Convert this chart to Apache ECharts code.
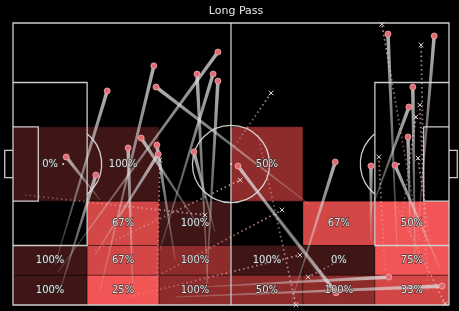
<!DOCTYPE html>
<html><head><meta charset="utf-8">
<script src="https://cdn.jsdelivr.net/npm/echarts@6/dist/echarts.min.js"></script>
<style>html,body{margin:0;padding:0;background:#000;}#c{width:459px;height:311px;}</style>
</head><body><div id="c"></div>
<script>
// ---- zone grid (Opta 0-100 pitch, y measured from top touchline) ----
const xEdges = [0, 17, 33.5, 50, 66.5, 83, 100];
const yEdges = [0, 21.1, 36.8, 63.2, 78.9, 89.45, 100];
// zones with long passes started: column index, row index, number of passes, success %
const cellCol   = [0, 1, 3,   1, 2, 4, 5,   0, 1, 2, 3, 4, 5,   0, 1, 2, 3, 4, 5];
const cellRow   = [2, 2, 2,   3, 3, 3, 3,   4, 4, 4, 4, 4, 4,   5, 5, 5, 5, 5, 5];
const cellCount = [1, 1, 2,   3, 1, 3, 4,   1, 3, 2, 1, 1, 4,   1, 4, 2, 2, 2, 3];
const cellPct   = [0, 100, 50, 67, 100, 67, 50, 100, 67, 100, 100, 0, 75, 100, 25, 100, 50, 100, 33];

// ---- completed long passes: start [x,y] and end [x,y] ----
const okStart = [[10.3,88.3],[20.0,94.7],[44.7,92.9],[33.7,80.5],[44.3,94.7],[68.1,64.5],[9.6,85.8],
  [42.9,72.7],[37.2,84.0],[18.8,82.3],[27.5,95.7],[46.3,74.1],[20.0,62.8],[10.8,94.7],
  [88.1,80.5],[92.9,73.4],[92.2,84.8],[81.7,68.1],[91.1,75.2],[82.1,77.0],[97.9,86.9],
  [72.7,94.0],[64.0,98.2],[42.9,93.6],[37.2,97.2],[52.1,51.4]];
const okEnd = [[47.0,10.3],[32.3,15.2],[42.2,18.1],[45.9,18.1],[47.0,20.6],[32.8,22.7],[21.6,24.1],
  [29.4,40.8],[33.0,43.3],[33.3,46.5],[26.4,44.3],[41.5,45.7],[12.2,47.5],[19.0,53.9],
  [86.0,3.9],[96.6,4.6],[91.7,22.7],[90.8,29.8],[90.6,40.4],[82.1,50.7],[87.6,50.4],
  [51.6,50.7],[73.9,49.3],[86.2,90.1],[98.4,93.3],[74.1,95.7]];
// ---- failed long passes ----
const failStart = [[94.5,82.3],[50.2,45.0],[95.2,94.7],[88.8,73.4],[85.3,87.6],[95.6,77.0],[93.3,77.0],
  [31.4,91.1],[76.1,83.3],[56.2,39.7],[88.1,65.2],[2.8,61.0],[33.0,98.2],[25.7,97.5],[18.8,80.5]];
const failEnd = [[93.6,7.8],[59.2,24.8],[93.3,29.1],[92.4,33.3],[83.9,47.5],[92.9,47.9],[84.6,0.4],
  [61.7,66.3],[67.7,90.1],[64.9,100],[99.1,99.6],[44.0,68.1],[33.7,48.6],[65.8,82.3],[52.1,55.7]];

const LINE = 'rgba(225,225,225,0.9)';

const chart = echarts.init(document.getElementById('c'));

function heatItem(params, api) {
  const c = api.value(0), r = api.value(1);
  const p0 = api.coord([xEdges[c], yEdges[r]]);
  const p1 = api.coord([xEdges[c + 1], yEdges[r + 1]]);
  return {type: 'rect', shape: {x: p0[0], y: p0[1], width: p1[0] - p0[0], height: p1[1] - p0[1]},
    style: {fill: api.visual('color'), stroke: 'rgba(0,0,0,0.35)', lineWidth: 1}};
}
function labelItem(params, api) {
  const c = api.value(0), r = api.value(1);
  const p = api.coord([(xEdges[c] + xEdges[c + 1]) / 2, (yEdges[r] + yEdges[r + 1]) / 2]);
  return {type: 'text', x: p[0], y: p[1], style: {text: api.value(3) + '%', fill: '#e2e2e2',
    stroke: 'rgba(45,45,45,0.8)', lineWidth: 1.4, font: '10px "DejaVu Sans"', align: 'center', verticalAlign: 'middle'}};
}
function pitchItem(params, api) {
  const c = (x, y) => api.coord([x, y]);
  const pl = (pts, closed) => ({type: closed ? 'polygon' : 'polyline', shape: {points: pts.map(p => c(p[0], p[1]))},
    style: {stroke: LINE, lineWidth: 1.3, fill: null}});
  const rx = api.size([8.84, 0])[0];
  const ls = c(11.5, 50), rs = c(88.5, 50), cc = c(50, 50);
  const boxEdge = c(17, 50)[0];
  const a = Math.acos((boxEdge - ls[0]) / rx);
  const kids = [
    pl([[0,0],[100,0],[100,100],[0,100]], true),
    pl([[50,0],[50,100]]),
    pl([[0,21.1],[17,21.1],[17,78.9],[0,78.9]]),
    pl([[100,21.1],[83,21.1],[83,78.9],[100,78.9]]),
    pl([[0,36.8],[5.8,36.8],[5.8,63.2],[0,63.2]]),
    pl([[100,36.8],[94.2,36.8],[94.2,63.2],[100,63.2]]),
    pl([[0,45.2],[-1.9,45.2],[-1.9,54.8],[0,54.8]]),
    pl([[100,45.2],[101.9,45.2],[101.9,54.8],[100,54.8]]),
    {type: 'circle', shape: {cx: cc[0], cy: cc[1], r: rx}, style: {stroke: LINE, lineWidth: 1.3, fill: null}},
    {type: 'arc', shape: {cx: ls[0], cy: ls[1], r: rx, startAngle: -a, endAngle: a}, style: {stroke: LINE, lineWidth: 1.3, fill: null}},
    {type: 'arc', shape: {cx: rs[0], cy: rs[1], r: rx, startAngle: Math.PI - a, endAngle: Math.PI + a}, style: {stroke: LINE, lineWidth: 1.3, fill: null}},
    {type: 'circle', shape: {cx: ls[0], cy: ls[1], r: 1.1}, style: {fill: LINE}},
    {type: 'circle', shape: {cx: rs[0], cy: rs[1], r: 1.1}, style: {fill: LINE}},
    {type: 'circle', shape: {cx: cc[0], cy: cc[1], r: 1.1}, style: {fill: LINE}}
  ];
  return {type: 'group', children: kids};
}
function okItem(params, api) {
  const s = api.coord([api.value(0), api.value(1)]);
  const e = api.coord([api.value(2), api.value(3)]);
  const dx = e[0] - s[0], dy = e[1] - s[1];
  const len = Math.hypot(dx, dy) || 1;
  const nx = -dy / len, ny = dx / len;
  const w0 = 0.5, w1 = 1.8;
  const pts = [[s[0] + nx * w0, s[1] + ny * w0], [e[0] + nx * w1, e[1] + ny * w1],
    [e[0] - nx * w1, e[1] - ny * w1], [s[0] - nx * w0, s[1] - ny * w0]];
  const grad = new echarts.graphic.LinearGradient(s[0], s[1], e[0], e[1],
    [{offset: 0, color: 'rgba(215,215,215,0.2)'}, {offset: 1, color: 'rgba(220,220,220,0.8)'}], true);
  return {type: 'group', children: [
    {type: 'polygon', shape: {points: pts}, style: {fill: grad}},
    {type: 'circle', shape: {cx: e[0], cy: e[1], r: 3}, style: {fill: '#e06a76', stroke: '#f3a9a9', lineWidth: 0.8}}
  ]};
}
function failItem(params, api) {
  const s = api.coord([api.value(0), api.value(1)]);
  const e = api.coord([api.value(2), api.value(3)]);
  const grad = new echarts.graphic.LinearGradient(s[0], s[1], e[0], e[1],
    [{offset: 0, color: 'rgba(230,165,170,0.3)'}, {offset: 1, color: 'rgba(235,180,185,0.8)'}], true);
  const k = 2.3;
  return {type: 'group', children: [
    {type: 'line', shape: {x1: s[0], y1: s[1], x2: e[0], y2: e[1]}, style: {stroke: grad, lineWidth: 1.8, lineDash: [1.5, 3]}},
    {type: 'line', shape: {x1: e[0] - k, y1: e[1] - k, x2: e[0] + k, y2: e[1] + k}, style: {stroke: '#d8d8d8', lineWidth: 1}},
    {type: 'line', shape: {x1: e[0] - k, y1: e[1] + k, x2: e[0] + k, y2: e[1] - k}, style: {stroke: '#d8d8d8', lineWidth: 1}}
  ]};
}

const cells = cellCol.map((c, i) => [c, cellRow[i], cellCount[i], cellPct[i]]);
const okData = okStart.map((s, i) => [s[0], s[1], okEnd[i][0], okEnd[i][1]]);
const failData = failStart.map((s, i) => [s[0], s[1], failEnd[i][0], failEnd[i][1]]);

chart.setOption({
  backgroundColor: '#000',
  animation: false,
  title: {text: 'Long Pass', left: 231, top: 1, textAlign: 'center',
    textStyle: {color: '#e6e6e6', fontSize: 11, fontWeight: 'normal', fontFamily: 'DejaVu Sans'}},
  grid: {left: 13, right: 10, top: 23, bottom: 6},
  xAxis: {type: 'value', min: 0, max: 100, show: false},
  yAxis: {type: 'value', min: 0, max: 100, inverse: true, show: false},
  visualMap: {type: 'piecewise', show: false, seriesIndex: 0, dimension: 2,
    pieces: [{value: 1, color: '#3f1515'}, {value: 2, color: '#8e2c2c'}, {value: 3, color: '#d44747'}, {value: 4, color: '#f25555'}]},
  series: [
    {type: 'custom', renderItem: heatItem, data: cells, z: 1, silent: true},
    {type: 'custom', renderItem: pitchItem, data: [[0]], z: 2, silent: true},
    {type: 'custom', renderItem: failItem, data: failData, z: 3, silent: true},
    {type: 'custom', renderItem: okItem, data: okData, z: 4, silent: true},
    {type: 'custom', renderItem: labelItem, data: cells, z: 5, silent: true}
  ]
});
</script></body></html>
